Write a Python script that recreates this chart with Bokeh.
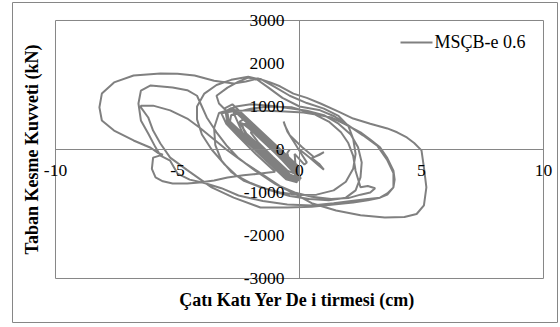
import math
from bokeh.plotting import figure
from bokeh.models import LinearAxis, FixedTicker, Range1d, Label, ColumnDataSource
from bokeh.core.properties import value
from bokeh.embed import file_html
from bokeh.resources import INLINE

# Roof displacement (cm) and base shear (kN), recorded in phases
early_x = [0, 0.4, 0.8, 1.0, 0.8, 0.5, 0.8, 1.0, 0.6, 0.1, -0.4, -0.6, -0.65, -0.5, -0.2, 0.1, 0.3, 0.2, -0.2]
early_y = [0, -180, -380, -470, -330, -200, -130, -60, -180, 60, 330, 560, 650, 420, 150, -120, -300, -350, -100]

band_x = [-0.15, -0.75, -1.35, -1.95, -2.55, -2.8, -2.85, -2.25, -1.65, -1.05, -0.45, 0.0,
          -0.05, -0.65, -1.25, -1.85, -2.45, -2.75, -3.05, -2.95, -2.35, -1.75, -1.15, -0.55, -0.1,
          -0.22, -0.82, -1.42, -2.02, -2.32, -2.45, -2.18, -1.58, -0.98, -0.38, 0.05,
          -0.1, -0.7, -1.3, -1.9, -2.5, -2.75, -2.95, -2.9, -2.3, -1.7, -1.1, -0.5, -0.1,
          -0.18, -0.78, -1.38, -1.98, -2.2, -2.35, -2.22, -1.62, -1.02, -0.42, -0.05,
          -0.08, -0.68, -1.28, -1.88, -2.48, -2.8, -3.0]
band_y = [-450, -130, 190, 510, 830, 800, 650, 330, 10, -310, -630, -720,
          -390, -70, 250, 570, 890, 1050, 960, 590, 270, -50, -370, -690, -760,
          -495, -175, 145, 465, 600, 620, 375, 55, -265, -585, -680,
          -420, -100, 220, 540, 860, 940, 880, 620, 300, -20, -340, -660, -720,
          -465, -145, 175, 495, 600, 580, 345, 25, -295, -615, -690,
          -405, -85, 235, 555, 875, 960, 900]

loopa_x = [-3.3, -3.4, -2.95, -2.5, -2.1, -1.6, -1.0, -0.4, 0.3, 1.0, 1.6, 2.0, 2.2, 2.3, 2.2, 1.9, 1.4, 0.7,
           0.0, -0.8, -1.6, -2.3, -2.8, -3.2, -3.45, -3.5, -3.3, -3.0]
loopa_y = [1070, 1250, 1440, 1580, 1670, 1640, 1450, 1250, 1080, 950, 780, 550, 250, -100, -450, -750, -950,
           -1050, -1060, -1000, -880, -720, -520, -255, 100, 500, 850, 900]

loop1_x = [-2.6, -2.0, -1.2, -0.4, 0.3, 1.0, 1.6, 2.1, 2.4, 2.55, 2.5, 2.3, 1.9, 1.2, 0.4, -0.4, -1.2,
           -2.0, -2.6, -3.1, -3.6, -4.0, -4.2, -4.2, -3.9, -3.4, -2.8, -2.1, -1.8]
loop1_y = [1000, 1050, 1020, 960, 900, 800, 600, 350, 50, -300, -650, -950, -1120, -1180, -1150, -1080, -950,
           -780, -600, -330, 0, 350, 700, 1000, 1300, 1500, 1620, 1690, 1650]

loop2_x = [-1.3, -0.7, 0.0, 0.8, 1.4, 2.0, 2.6, 3.2, 3.6, 3.85, 3.85, 3.6, 3.3, 2.8, 2.2, 1.4, 0.5, -0.5,
           -1.5, -2.5, -3.2, -3.9, -4.5, -5.0, -5.3, -5.7, -5.9, -6.2, -6.5, -6.6, -6.5, -6.1, -5.2, -4.6,
           -4.2, -4.0, -3.8, -3.4, -3.0, -2.5, -1.8, -1.0, -0.3]
loop2_y = [1450, 1200, 1000, 920, 780, 560, 330, 80, -250, -550, -880, -1050, -1120, -1150, -1190, -1250,
           -1300, -1280, -1200, -1070, -900, -780, -700, -560, -260, -140, 50, 370, 675, 1070, 1370, 1490,
           1440, 1380, 1250, 1000, 745, 400, 100, -200, -500, -800, -1000]

loop3_x = [0.5, 1.5, 2.5, 3.5, 4.3, 4.8, 5.1, 5.2, 5.1, 5.0, 4.7, 4.4, 4.0, 3.6, 2.9, 2.2, 1.6, 0.86, 0.3,
           -0.25, -0.8, -1.2, -1.7, -2.2, -2.7, -3.5, -4.3, -5.0, -5.7, -6.8, -7.6, -8.1, -8.2, -8.1, -7.6,
           -6.8, -6.1, -5.8, -5.6, -6.0, -6.05, -5.9, -5.6, -5.2, -4.6, -4.1, -3.5, -2.95, -2.3, -1.6, -1.0]
loop3_y = [-1250, -1420, -1530, -1580, -1570, -1500, -1300, -880, -420, -20, 150, 280, 400, 490, 600, 720,
           880, 1070, 1200, 1300, 1470, 1560, 1650, 1580, 1535, 1600, 1720, 1760, 1770, 1720, 1560, 1300,
           980, 675, 440, 210, 40, -80, -120, -190, -450, -650, -740, -790, -790, -770, -720, -650, -600,
           -560, -520]

loop4_x = [-1.8, -2.5, -3.0, -3.2, -2.6, -1.9, -0.8, 0.16, 0.8, 1.3, 1.9, 2.5, 2.9, 3.3, 3.6, 3.85, 3.9,
           3.85, 3.6, 3.3, 2.8, 2.2, 1.4, 0.5, -0.5, -1.6, -2.7, -3.6, -4.6, -5.3, -5.7, -6.0, -6.2, -6.5,
           -6.5, -6.0, -5.3, -4.6, -4.1, -3.6, -3.0, -2.4, -1.6, -0.8, -0.2]
loop4_y = [-100, 300, 600, 840, 900, 910, 890, 860, 800, 745, 580, 400, 230, 50, -200, -490, -700, -880,
           -1020, -1120, -1180, -1230, -1280, -1330, -1350, -1350, -1120, -880, -480, -190, 140, 440, 745,
           980, 1020, 1020, 910, 720, 510, 280, 0, -250, -550, -850, -1000]

loop5_x = [0.5, 1.3, 2.0, 2.5, 2.9, 3.1, 2.8, 2.5, 2.3, 2.2, 2.0, 1.7, 1.2, 0.5, -0.3, -1.2, -2.0, -2.7]
loop5_y = [-1100, -1150, -1130, -1050, -1000, -900, -850, -880, -500, -150, 150, 400, 650, 850, 980,
           1000, 950, 850]

late_x = [-2.28, -1.68, -1.08, -0.48, 0.0, -0.12, -0.72, -1.32, -1.92, -2.3, -2.45, -2.2, -1.6, -1.0,
          -0.4, -0.05, -0.2, -0.8, -1.4, -1.9, -2.0, -1.7, -1.1, -0.5, -0.2, -0.7, -1.3, -1.6, -1.2, -0.7,
          -0.4, -0.5, -0.4]
late_y = [315, -5, -325, -645, -700, -435, -115, 205, 525, 700, 650, 360, 40, -280, -600, -660, -480,
          -160, 160, 420, 400, 170, -170, -490, -560, -250, 90, 260, 30, -230, -300, -80, 0]

disp = early_x + band_x + loopa_x + loop1_x + loop2_x + loop3_x + loop4_x + loop5_x + late_x
shear = early_y + band_y + loopa_y + loop1_y + loop2_y + loop3_y + loop4_y + loop5_y + late_y

x_ticks = [-10, -5, 0, 5, 10]
y_ticks = [-3000, -2000, -1000, 0, 1000, 2000, 3000]
x_lim = (-10, 10)
y_lim = (-3000, 3000)
series_name = "MSÇB-e 0.6"
x_title = "Çatı Katı Yer De  i tirmesi (cm)"
y_title = "Taban Kesme Kuvveti (kN)"

GRAY = "#868686"
LINE = "#808080"
FONT = "Liberation Serif, Times New Roman, serif"

# scale of the plot area: pixels per data unit
PX_PER_CM = 24.4
KN_PER_PX = 23.256

# the frame is the whole chart area; the plot area is drawn inside it
p = figure(width=560, height=327, output_backend="svg", toolbar_location=None,
           x_range=Range1d(-11.762, 10.574), y_range=Range1d(-4023.3, 3418.6),
           x_axis_type=None, y_axis_type=None,
           min_border_left=12, min_border_right=3, min_border_top=2, min_border_bottom=5)
p.outline_line_color = GRAY
p.outline_line_width = 1

# plot-area rectangle
p.quad(left=[x_lim[0]], right=[x_lim[1]], bottom=[y_lim[0]], top=[y_lim[1]],
       fill_color=None, line_color=GRAY, line_width=1)

# axis lines crossing at the origin
for dim, lim in (("x", x_lim), ("y", y_lim)):
    ax = LinearAxis(fixed_location=0, ticker=FixedTicker(ticks=[]), bounds=lim)
    ax.axis_line_color = GRAY
    ax.major_tick_out = 0
    ax.major_tick_in = 0
    ax.minor_tick_line_color = None
    p.add_layout(ax, "below" if dim == "x" else "left")

# hysteresis curve
src = ColumnDataSource(dict(x=disp, y=shear))
p.line("x", "y", source=src, line_color=LINE, line_width=2)

# tick labels beside the axes, drawn over the curve
xlab = ColumnDataSource(dict(x=x_ticks, y=[-21 * KN_PER_PX] * len(x_ticks),
                             text=[str(t) for t in x_ticks]))
ylab = ColumnDataSource(dict(x=[-15 / PX_PER_CM] * len(y_ticks), y=y_ticks,
                             text=[str(t) for t in y_ticks]))
p.text(x="x", y="y", text="text", source=xlab, text_align="center", text_baseline="middle",
       text_font=value(FONT), text_font_size=value("17.5px"), text_color="black")
p.text(x="x", y="y", text="text", source=ylab, text_align="right", text_baseline="middle",
       text_font=value(FONT), text_font_size=value("17.5px"), text_color="black")

# legend key and label in the upper right
key_y = y_lim[1] - 22 * KN_PER_PX
key_x0 = x_lim[0] + 345 / PX_PER_CM
key_x1 = key_x0 + 32 / PX_PER_CM
p.segment(x0=[key_x0], y0=[key_y], x1=[key_x1], y1=[key_y], line_color=LINE, line_width=2)
p.text(x=[key_x1 + 2 / PX_PER_CM], y=[key_y], text=[series_name], text_align="left",
       text_baseline="middle", text_font=value(FONT), text_font_size=value("18px"),
       text_color="black")

# axis titles
p.add_layout(Label(x=0, y=y_lim[0] - 22 * KN_PER_PX, text=x_title, text_align="center",
                   text_baseline="middle", text_font=FONT, text_font_size="18px",
                   text_font_style="bold", text_color="black"))
p.add_layout(Label(x=x_lim[0] - 23 / PX_PER_CM, y=0, text=y_title, angle=math.pi / 2,
                   text_align="center", text_baseline="middle", text_font=FONT,
                   text_font_size="18px", text_font_style="bold", text_color="black"))

open("out.html", "w").write(file_html(p, INLINE))
